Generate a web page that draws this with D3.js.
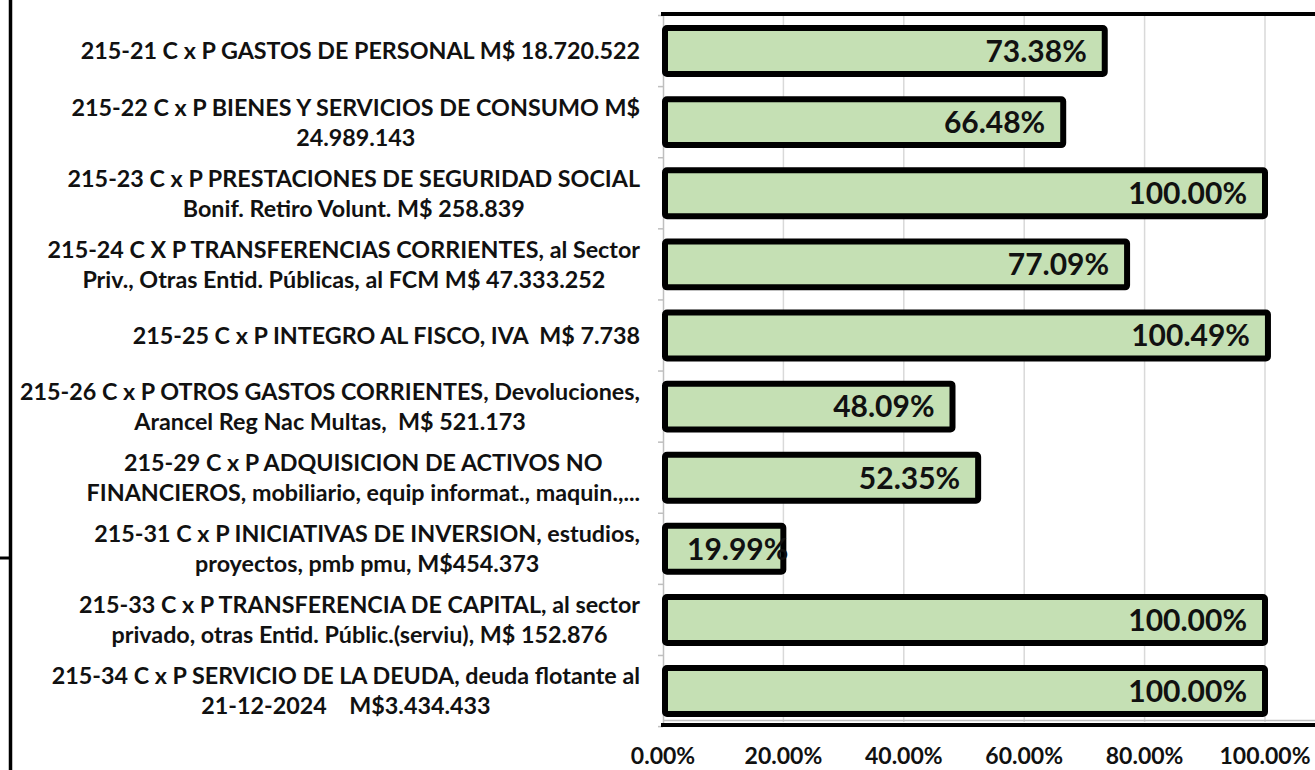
<!DOCTYPE html>
<html>
<head>
<meta charset="utf-8">
<script src="https://cdn.jsdelivr.net/npm/d3@7"></script>
<style>
    body { margin: 0; background: #fff; }
    text { font-family: Lato, "Open Sans", sans-serif; fill: #111; white-space: pre; }
</style>
</head>
<body>
<div id="chart"></div>
<script>
// category labels, one array entry per line of text
const categories = [
    ["215-21 C x P GASTOS DE PERSONAL M$ 18.720.522"],
    ["215-22 C x P BIENES Y SERVICIOS DE CONSUMO M$", "24.989.143"],
    ["215-23 C x P PRESTACIONES DE SEGURIDAD SOCIAL", "Bonif. Retiro Volunt. M$ 258.839"],
    ["215-24 C X P TRANSFERENCIAS CORRIENTES, al Sector", "Priv., Otras Entid. Públicas, al FCM M$ 47.333.252"],
    ["215-25 C x P INTEGRO AL FISCO, IVA  M$ 7.738"],
    ["215-26 C x P OTROS GASTOS CORRIENTES, Devoluciones,", "Arancel Reg Nac Multas,  M$ 521.173"],
    ["215-29 C x P ADQUISICION DE ACTIVOS NO", "FINANCIEROS, mobiliario, equip informat., maquin.,..."],
    ["215-31 C x P INICIATIVAS DE INVERSION, estudios,", "proyectos, pmb pmu, M$454.373"],
    ["215-33 C x P TRANSFERENCIA DE CAPITAL, al sector", "privado, otras Entid. Públic.(serviu), M$ 152.876"],
    ["215-34 C x P SERVICIO DE LA DEUDA, deuda flotante al", "21-12-2024    M$3.434.433"]
];
const values = [0.7338, 0.6648, 1.0000, 0.7709, 1.0049, 0.4809, 0.5235, 0.1999, 1.0000, 1.0000];
const tickValues = [0, 0.2, 0.4, 0.6, 0.8, 1.0];

const width = 1315, height = 770;
const plot = { left: 663, right: 1265, top: 15.5, bottom: 726.6 };
const labelRight = 640;

const data = categories.map((c, i) => ({ id: i, lines: c, value: values[i] }));
const fmt = d => (d * 100).toFixed(2) + "%";

const svg = d3.select("#chart")
    .append("svg")
    .attr("width", width)
    .attr("height", height);

const xScale = d3.scaleLinear()
    .domain([0, 1])
    .range([plot.left, plot.right]);

const yScale = d3.scaleBand()
    .domain(data.map(d => d.id))
    .range([plot.top, plot.bottom])
    .paddingInner(0.27)
    .paddingOuter(0.135);

// gridlines
svg.append("g")
    .selectAll("line")
    .data(tickValues.slice(1))
    .join("line")
    .attr("x1", d => xScale(d))
    .attr("x2", d => xScale(d))
    .attr("y1", 14)
    .attr("y2", 722)
    .attr("stroke", "#d9d9d9")
    .attr("stroke-width", 1.5);

// category axis (thin grey line with small ticks between bands)
const yAxis = d3.axisLeft(yScale).tickSize(0).tickFormat("");
svg.append("g")
    .attr("transform", `translate(${plot.left}, 0)`)
    .call(yAxis)
    .call(g => g.select(".domain").attr("stroke", "#bfbfbf").attr("stroke-width", 1.5));

const gap = yScale.step() - yScale.bandwidth();
const boundaries = d3.range(data.length + 1)
    .map(i => i === 0 ? plot.top : yScale(i - 1) + yScale.bandwidth() + gap / 2);
svg.append("g")
    .selectAll("line")
    .data(boundaries)
    .join("line")
    .attr("x1", plot.left - 5)
    .attr("x2", plot.left)
    .attr("y1", d => d)
    .attr("y2", d => d)
    .attr("stroke", "#bfbfbf")
    .attr("stroke-width", 1.5);

// value axis line
svg.append("line")
    .attr("x1", plot.left)
    .attr("x2", width)
    .attr("y1", 720.5)
    .attr("y2", 720.5)
    .attr("stroke", "#bfbfbf")
    .attr("stroke-width", 1.5);

// frame lines
svg.append("line")
    .attr("x1", plot.left - 2).attr("x2", width)
    .attr("y1", 14).attr("y2", 14)
    .attr("stroke", "#000").attr("stroke-width", 4);
svg.append("line")
    .attr("x1", plot.left - 2).attr("x2", width)
    .attr("y1", 725).attr("y2", 725)
    .attr("stroke", "#000").attr("stroke-width", 4);
svg.append("line")
    .attr("x1", 10.5).attr("x2", 10.5)
    .attr("y1", 0).attr("y2", height)
    .attr("stroke", "#000").attr("stroke-width", 3.5);
svg.append("line")
    .attr("x1", 0).attr("x2", 10)
    .attr("y1", 558).attr("y2", 558)
    .attr("stroke", "#000").attr("stroke-width", 3);

// bars
const sw = 6;
svg.append("g")
    .selectAll("rect")
    .data(data)
    .join("rect")
    .attr("x", xScale(0) + sw / 2 - 1)
    .attr("y", d => yScale(d.id) + sw / 2)
    .attr("width", d => xScale(d.value) - xScale(0) - sw / 2 + 1)
    .attr("height", yScale.bandwidth() - sw)
    .attr("rx", 2)
    .attr("fill", "#c5e0b4")
    .attr("stroke", "#000")
    .attr("stroke-width", sw);

// data labels, inside end
svg.append("g")
    .selectAll("text")
    .data(data)
    .join("text")
    .attr("y", d => yScale(d.id) + yScale.bandwidth() / 2)
    .attr("dy", "0.36em")
    .attr("text-anchor", "end")
    .style("font-size", "30px")
    .style("font-weight", 700)
    .text(d => fmt(d.value))
    .attr("x", function(d) {
        const w = this.getComputedTextLength();
        return Math.max(xScale(d.value) - 18, xScale(0) + 24 + w);
    });

// category labels: block right-aligned, lines centred within block
const labels = svg.append("g")
    .selectAll("text")
    .data(data)
    .join("text")
    .attr("text-anchor", "middle")
    .style("font-size", "23.3px")
    .style("font-weight", 700);

labels.each(function(d) {
    const t = d3.select(this);
    const cy = yScale(d.id) + yScale.bandwidth() / 2;
    const n = d.lines.length;
    d.lines.forEach((line, i) => {
        t.append("tspan")
            .attr("y", cy + (i - (n - 1) / 2) * 30)
            .attr("dy", "0.36em")
            .text(line);
    });
    let maxW = 0;
    t.selectAll("tspan").each(function() {
        maxW = Math.max(maxW, this.getComputedTextLength());
    });
    t.selectAll("tspan").attr("x", labelRight - maxW / 2);
});

// tick labels
svg.append("g")
    .selectAll("text")
    .data(tickValues)
    .join("text")
    .attr("x", d => xScale(d))
    .attr("y", 756)
    .attr("dy", "0.36em")
    .attr("text-anchor", "middle")
    .style("font-size", "23px")
    .style("font-weight", 700)
    .text(d => fmt(d));
</script>
</body>
</html>
